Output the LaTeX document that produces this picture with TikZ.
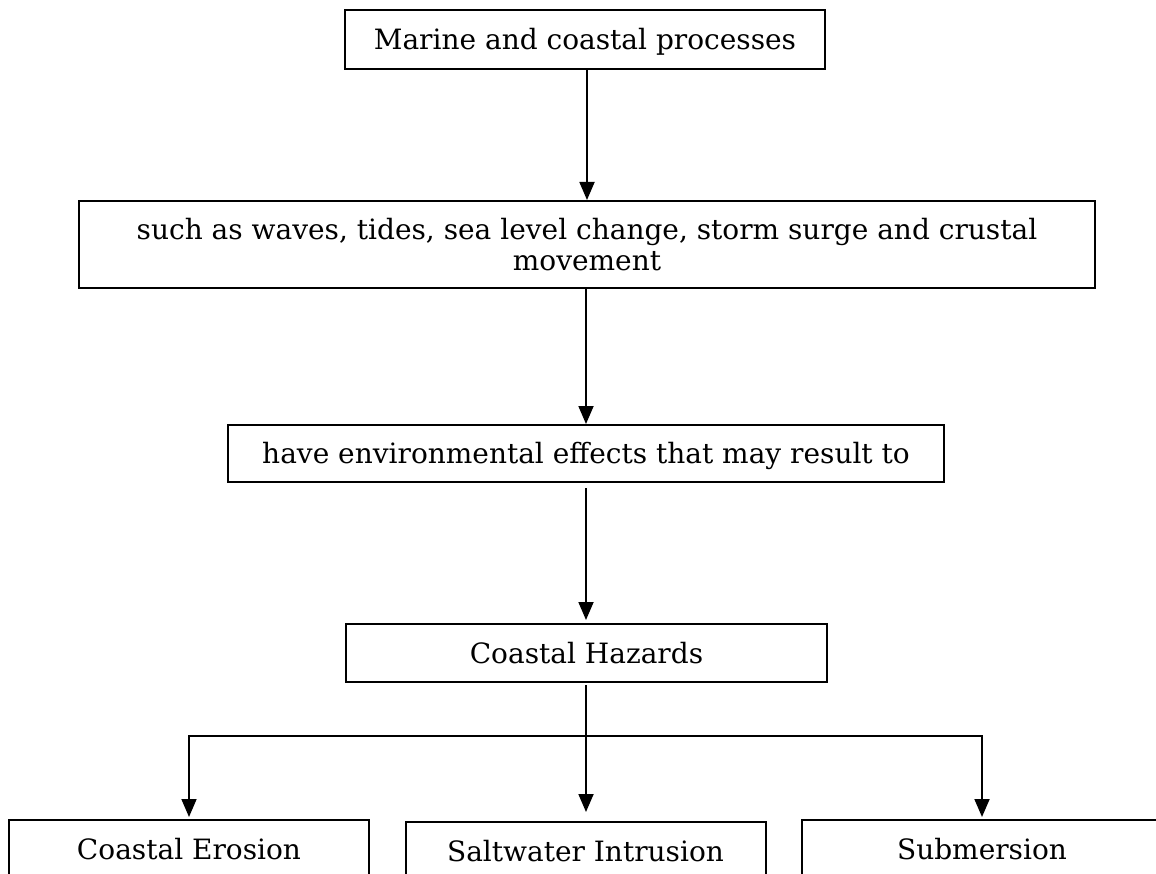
\documentclass[tikz,border=0pt]{standalone}
\usepackage{fontspec}
\setmainfont{DejaVu Serif}
\usetikzlibrary{arrows.meta}
\tikzset{
  box/.style={draw=black, line width=2pt, inner sep=0pt, align=center,
    font=\fontsize{28}{31}\selectfont},
  onebox/.style={box, text height=20pt, text depth=0pt},
  conn/.style={line width=1.8pt, -{Triangle[width=15pt,length=18pt]}},
  plain/.style={line width=1.8pt}
}
\begin{document}
\begin{tikzpicture}[x=1pt,y=-1pt]
\useasboundingbox (0,0) rectangle (1156,874);
\clip (0,0) rectangle (1156,874);
\node[onebox, minimum width=480pt, minimum height=59pt] (mc) at (585,39.5) {Marine and coastal processes};
\node[box, minimum width=1016pt, minimum height=87pt] (sa) at (587,244.5) {such as waves, tides, sea level change, storm surge and crustal\\movement};
\node[onebox, minimum width=716pt, minimum height=57pt] (he) at (586,453.5) {have environmental effects that may result to};
\node[onebox, minimum width=481pt, minimum height=58pt] (ch) at (586.5,653) {Coastal Hazards};
\node[onebox, minimum width=360pt, minimum height=58pt] (ce) at (189,849) {Coastal Erosion};
\node[onebox, minimum width=360pt, minimum height=58pt] (si) at (585.5,851) {Saltwater Intrusion};
\node[onebox, minimum width=360pt, minimum height=58pt] (sub) at (982,849) {Submersion};
\coordinate (j) at (586,736);
\draw[conn] (mc.south -| 587,0) -- (sa.north -| 587,0);
\draw[conn] (sa.south -| 586,0) -- (he.north -| 586,0);
\draw[conn, shorten <=5pt, shorten >=3pt] (he.south) -- (ch.north -| he.south);
\draw[plain, shorten <=2pt] (ch.south -| j) -- (j);
\draw[conn, shorten >=2pt] (j) -| (ce.north);
\draw[conn, shorten >=2pt] (j) -| (sub.north);
\draw[conn, shorten >=9pt] (j) -- (si.north -| j);
\end{tikzpicture}
\end{document}
